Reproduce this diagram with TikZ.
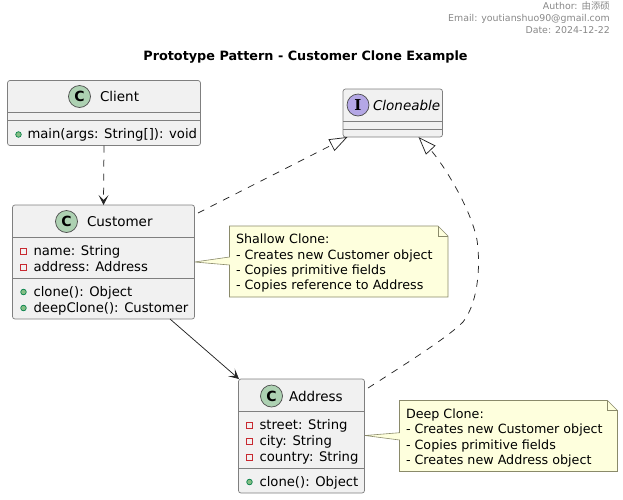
\documentclass[tikz,border=0pt]{standalone}
\usepackage{fontspec}
\setmainfont{DejaVu Sans}
\newfontfamily\cjk{Noto Sans CJK SC}
\newfontfamily\slab{DejaVu Serif}
\usetikzlibrary{arrows.meta}
\definecolor{boxfill}{HTML}{F1F1F1}
\definecolor{boxline}{HTML}{7F7F7F}
\definecolor{notefill}{HTML}{FEFFDD}
\definecolor{noteline}{HTML}{8A8A6A}
\definecolor{headgray}{HTML}{888888}
\definecolor{iconc}{HTML}{ADD1B2}
\definecolor{iconi}{HTML}{B4A7E5}
\definecolor{privred}{HTML}{C82930}
\definecolor{pubgreen}{HTML}{84BE84}
\definecolor{publine}{HTML}{038048}
\newcommand{\fs}[1]{\fontsize{#1}{#1}\selectfont}
\tikzset{
  x=1pt,y=-1pt,
  classbox/.style={draw=boxline,fill=boxfill,line width=0.7pt,rounded corners=2.5pt,inner sep=0pt,outer sep=0pt},
  member/.style={anchor=base west,inner sep=0pt,outer sep=0pt,font=\fs{13.2}},
  classname/.style={anchor=base west,inner sep=0pt,outer sep=0pt,font=\fs{13.5}},
  notetext/.style={anchor=base west,inner sep=0pt,outer sep=0pt,font=\fs{12.7}},
  sep/.style={draw=boxline,line width=0.7pt},
  icon/.style={circle,draw=black!70,line width=0.7pt,minimum size=22pt,inner sep=0pt,font=\fs{14}\bfseries},
  priv/.style={draw=privred,line width=0.8pt,fill=none},
  pub/.style={circle,draw=publine,fill=pubgreen,line width=0.7pt,minimum size=5.6pt,inner sep=0pt},
  notebody/.style={draw=noteline,fill=notefill,line width=0.6pt,line join=miter},
  conn/.style={line width=0.75pt,draw=black!85},
  dashline/.style={conn,dash pattern=on 7pt off 7pt},
  headtext/.style={anchor=base east,inner sep=0pt,text=headgray,font=\fs{9.4}},
}
\newcommand{\privicon}[2]{\draw[priv] (#1-3,#2-3) rectangle (#1+3,#2+3);}
\begin{document}
\begin{tikzpicture}
\useasboundingbox (0,0) rectangle (623,499);
% header
\node[headtext] (h1) at (610,9) {Author: {\cjk 由添硕}};
\node[headtext] (h2) at (610,21) {Email: youtianshuo90@gmail.com};
\node[headtext] (h3) at (610,33) {Date: 2024-12-22};
\node[anchor=base,inner sep=0pt,font=\fs{12.8}\bfseries] (title) at (305.5,60) {Prototype Pattern - Customer Clone Example};

% notes connectors + bodies
\path[notebody] (229.5,226) -- (438,226) -- (448,236) -- (448,297) -- (229.5,297) -- (229.5,265) -- (194.5,262) -- (229.5,257) -- cycle;
\draw[noteline,line width=0.6pt] (438,226) -- (438,236) -- (448,236);
\node[notetext] (n1a) at (236,243.5) {Shallow Clone:};
\node[notetext] (n1b) at (236,259.5) {- Creates new Customer object};
\node[notetext] (n1c) at (236,274.5) {- Copies primitive fields};
\node[notetext] (n1d) at (236,289.5) {- Copies reference to Address};

\path[notebody] (399.5,400.5) -- (607.5,400.5) -- (617.5,410.5) -- (617.5,471.5) -- (399.5,471.5) -- (399.5,440) -- (365,435.5) -- (399.5,432.7) -- cycle;
\draw[noteline,line width=0.6pt] (607.5,400.5) -- (607.5,410.5) -- (617.5,410.5);
\node[notetext] (n2a) at (406,418) {Deep Clone:};
\node[notetext] (n2b) at (406,433) {- Creates new Customer object};
\node[notetext] (n2c) at (406,449) {- Copies primitive fields};
\node[notetext] (n2d) at (406,464) {- Creates new Address object};

% Client
\node[classbox,minimum width=193pt,minimum height=65pt] (client) at (104,113) {};
\draw[sep] (7.5,112.5) -- (200.5,112.5) (7.5,120.5) -- (200.5,120.5);
\node[icon,fill=iconc] (iclient) at (79.5,96.5) {C};
\node[classname] (tclient) at (100,101.5) {Client};
\node[pub] (p1) at (18.5,134.5) {};
\node[member] (m1) at (27.5,138) {main(args: String[]): void};

% Customer
\node[classbox,minimum width=182pt,minimum height=114pt] (customer) at (103.5,262) {};
\draw[sep] (12.5,237.5) -- (194.5,237.5) (12.5,278.5) -- (194.5,278.5);
\node[icon,fill=iconc] (icustomer) at (66.5,221.5) {C};
\node[classname] (tcustomer) at (87,226.5) {Customer};
\privicon{23.5}{251}
\node[member] (m2) at (33.5,255) {name: String};
\privicon{23.5}{267}
\node[member] (m3) at (33.5,271) {address: Address};
\node[pub] (p2) at (23.5,292) {};
\node[member] (m4) at (33.5,296) {clone(): Object};
\node[pub] (p3) at (23.5,308) {};
\node[member] (m5) at (33.5,312) {deepClone(): Customer};

% Cloneable
\node[classbox,minimum width=99.5pt,minimum height=48pt] (cloneable) at (392.75,113) {};
\draw[sep] (343,121) -- (442.5,121) (343,129) -- (442.5,129);
\node[icon,fill=iconi,font=\fs{15}\slab\bfseries] (icloneable) at (358,105) {I};
\node[classname,font=\fs{13.5}\itshape] (tcloneable) at (373,110) {Cloneable};

% Address
\node[classbox,minimum width=126pt,minimum height=114pt] (address) at (301.5,436) {};
\draw[sep] (238.5,411.5) -- (364.5,411.5) (238.5,468.5) -- (364.5,468.5);
\node[icon,fill=iconc] (iaddress) at (271.5,396) {C};
\node[classname] (taddress) at (289,401) {Address};
\privicon{249.5}{425}
\node[member] (m6) at (259.5,429) {street: String};
\privicon{249.5}{441}
\node[member] (m7) at (259.5,445) {city: String};
\privicon{249.5}{457.5}
\node[member] (m8) at (259.5,461.5) {country: String};
\node[pub] (p4) at (249.5,482) {};
\node[member] (m9) at (259.5,486) {clone(): Object};

% connectors
\coordinate (custout) at (198,213);
\coordinate (cloneinL) at (347.5,137);
\coordinate (addrout) at (368,388);
\coordinate (cloneinR) at (418.5,137);
\coordinate (custbot) at (170,319);
\coordinate (addrtop) at (239,379);
\draw[dashline,-{Stealth[inset=5pt,length=10pt,width=10pt]}] (client.south) -- (customer.north);
\draw[dashline,-{Triangle[open,length=18pt,width=13pt,fill=white]}] (custout) -- (cloneinL);
\draw[dashline,-{Triangle[open,length=18pt,width=13pt,fill=white]}] (addrout) .. controls (420,355) and (450,335) .. (463,322) .. controls (480,300) and (480,260) .. (477,240) .. controls (470,205) and (440,160) .. (cloneinR);
\draw[conn,-{Stealth[inset=5pt,length=10pt,width=10pt]}] (custbot) -- (addrtop);
\end{tikzpicture}
\end{document}
